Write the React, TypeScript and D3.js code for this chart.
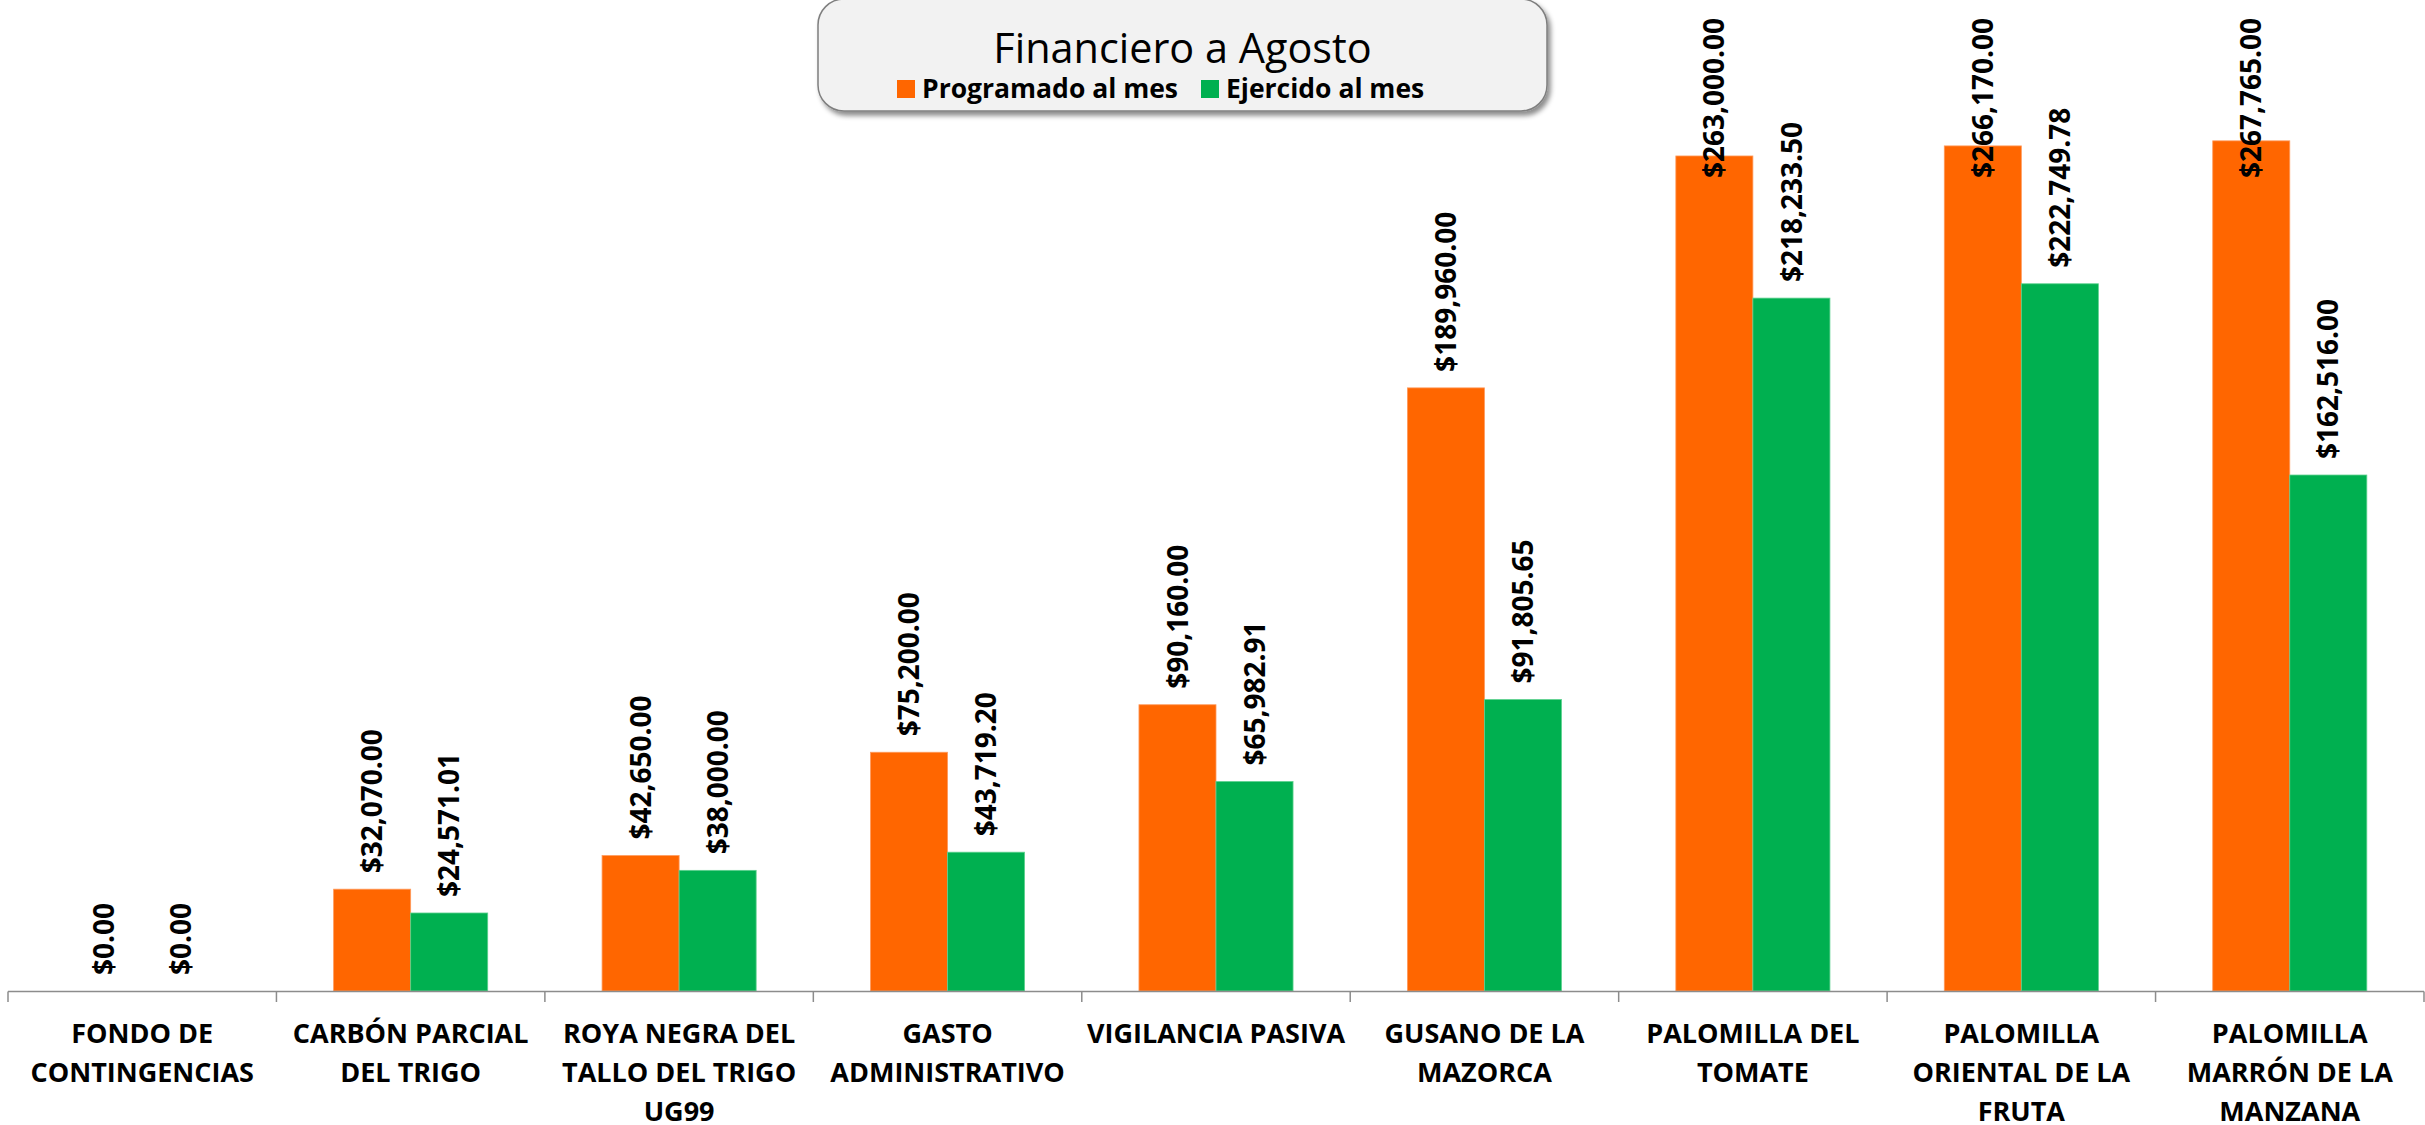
import React, { useEffect, useRef } from "react";
import * as d3 from "d3";

const categories: string[] = [
  "FONDO DE\nCONTINGENCIAS",
  "CARBÓN PARCIAL\nDEL TRIGO",
  "ROYA NEGRA DEL\nTALLO DEL TRIGO\nUG99",
  "GASTO\nADMINISTRATIVO",
  "VIGILANCIA PASIVA",
  "GUSANO DE LA\nMAZORCA",
  "PALOMILLA DEL\nTOMATE",
  "PALOMILLA\nORIENTAL DE LA\nFRUTA",
  "PALOMILLA\nMARRÓN DE LA\nMANZANA",
];

const programado: number[] = [0, 32070, 42650, 75200, 90160, 189960, 263000, 266170, 267765];
const ejercido: number[] = [0, 24571.01, 38000, 43719.2, 65982.91, 91805.65, 218233.5, 222749.78, 162516];

const seriesNames: string[] = ["Programado al mes", "Ejercido al mes"];
const seriesColors: string[] = ["#FF6600", "#00B050"];
const title = "Financiero a Agosto";

const W = 2425;
const H = 1125;
const FONT = "'Open Sans', 'Noto Sans', sans-serif";

export default function App() {
  const ref = useRef<SVGSVGElement | null>(null);

  useEffect(() => {
    const svg = d3.select(ref.current);
    svg.selectAll("*").remove();

    const defs = svg.append("defs");
    const f = defs
      .append("filter")
      .attr("id", "shadow")
      .attr("x", "-10%")
      .attr("y", "-10%")
      .attr("width", "120%")
      .attr("height", "140%");
    f.append("feDropShadow")
      .attr("dx", 3)
      .attr("dy", 4)
      .attr("stdDeviation", 2.5)
      .attr("flood-color", "#000")
      .attr("flood-opacity", 0.45);

    const x = d3.scaleBand<number>().domain(d3.range(categories.length)).range([8, 2424]).paddingInner(0).paddingOuter(0);
    const y = d3.scaleLinear().domain([0, 300000]).range([991, 38.5]);
    const barW = x.bandwidth() * 0.287;
    const sub = d3.scaleBand<number>().domain([0, 1]).range([-barW, barW]);

    const data = [programado, ejercido];

    // bars
    data.forEach((vals, s) => {
      svg
        .append("g")
        .selectAll("rect")
        .data(vals)
        .join("rect")
        .attr("x", (_d, i) => (x(i) as number) + x.bandwidth() / 2 + (sub(s) as number))
        .attr("y", (d) => y(d))
        .attr("width", sub.bandwidth())
        .attr("height", (d) => y(0) - y(d))
        .attr("fill", seriesColors[s])
        .attr("stroke", s === 0 ? "#FF9A5C" : "#5ED18F")
        .attr("stroke-width", 0.8);
    });

    // axis line and ticks
    const axis = svg.append("g");
    axis
      .append("line")
      .attr("x1", 8)
      .attr("x2", 2424)
      .attr("y1", 991.5)
      .attr("y2", 991.5)
      .attr("stroke", "#8C8C8C")
      .attr("stroke-width", 1.5);
    const tickPos = d3.range(categories.length + 1).map((i) => (i < categories.length ? (x(i) as number) : 2424));
    axis
      .selectAll("line.tick")
      .data(tickPos)
      .join("line")
      .attr("class", "tick")
      .attr("x1", (d) => d)
      .attr("x2", (d) => d)
      .attr("y1", 991.5)
      .attr("y2", 1002)
      .attr("stroke", "#8C8C8C")
      .attr("stroke-width", 1.5);

    // category labels
    const cat = svg.append("g");
    categories.forEach((c, i) => {
      const lines = c.split("\n");
      const t = cat
        .append("text")
        .attr("x", (x(i) as number) + x.bandwidth() / 2)
        .attr("y", 1043)
        .attr("text-anchor", "middle")
        .attr("font-family", FONT)
        .attr("font-weight", 700)
        .attr("font-size", 27)
        .attr("fill", "#000");
      lines.forEach((ln, k) => {
        t.append("tspan")
          .attr("x", (x(i) as number) + x.bandwidth() / 2)
          .attr("y", 1043 + k * 39)
          .text(ln);
      });
    });

    // value labels
    const fmt = d3.format("$,.2f");
    const lab = svg.append("g");
    data.forEach((vals, s) => {
      vals.forEach((v, i) => {
        const cx = (x(i) as number) + x.bandwidth() / 2 + (sub(s) as number) + sub.bandwidth() / 2;
        const top = y(v) - 16;
        const t = lab
          .append("text")
          .attr("font-family", FONT)
          .attr("font-weight", 700)
          .attr("font-size", 28)
          .attr("fill", "#000")
          .attr("dy", "0.36em")
          .attr("text-anchor", "start")
          .attr("transform", `translate(${cx},${top}) rotate(-90)`)
          .text(fmt(v));
        const len = (t.node() as SVGTextElement).getComputedTextLength();
        if (top - len < 18) {
          t.attr("text-anchor", "end").attr("transform", `translate(${cx},18) rotate(-90)`);
        }
      });
    });

    // legend box
    const lg = svg.append("g");
    lg.append("rect")
      .attr("x", 818)
      .attr("y", -1)
      .attr("width", 729)
      .attr("height", 112)
      .attr("rx", 26)
      .attr("ry", 26)
      .attr("fill", "#F2F2F2")
      .attr("stroke", "#7F7F7F")
      .attr("stroke-width", 1.5)
      .attr("filter", "url(#shadow)");
    lg.append("text")
      .attr("x", 1182.5)
      .attr("y", 63)
      .attr("text-anchor", "middle")
      .attr("font-family", FONT)
      .attr("font-size", 41.4)
      .attr("fill", "#000")
      .text(title);
    const legX = [897, 1201];
    seriesNames.forEach((n, s) => {
      lg.append("rect")
        .attr("x", legX[s])
        .attr("y", 80)
        .attr("width", 18)
        .attr("height", 18)
        .attr("fill", seriesColors[s]);
      lg.append("text")
        .attr("x", legX[s] + 25)
        .attr("y", 98)
        .attr("font-family", FONT)
        .attr("font-weight", 700)
        .attr("font-size", 26.5)
        .attr("fill", "#000")
        .text(n);
    });
  }, []);

  return (
    <svg
      ref={ref}
      width={W}
      height={H}
      style={{ position: "absolute", left: 0, top: 0, background: "#fff" }}
    />
  );
}
